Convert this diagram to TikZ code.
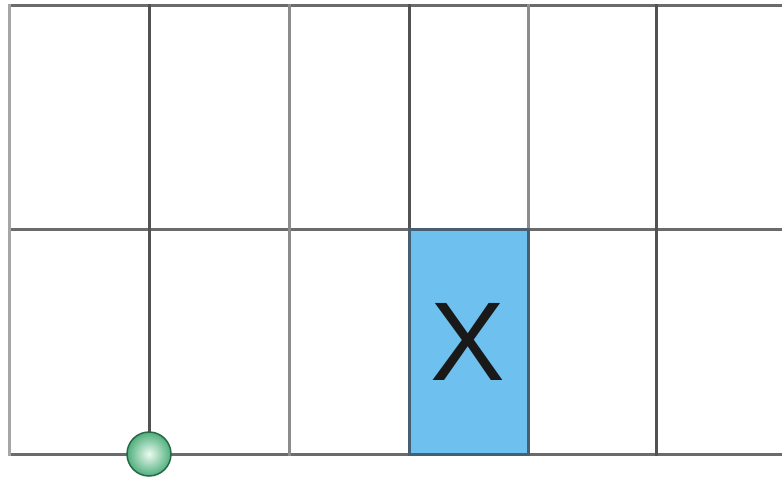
\documentclass[tikz,border=0pt]{standalone}
\usepackage{fontspec}
\setmainfont{Liberation Sans}
\begin{document}
\begin{tikzpicture}[x=1pt,y=-1pt,
  gline/.style={line width=3pt},
  dark/.style={gline,draw=black!68},
  mid/.style={gline,draw=black!45},
  light/.style={gline,draw=black!35},
  hline/.style={gline,draw=black!58}]
\useasboundingbox (0,0) rectangle (782,480);
\fill[white] (0,0) rectangle (782,480);
% blue cell
\node[draw=none,fill={rgb,255:red,110;green,192;blue,238},minimum width=119pt,minimum height=225pt,inner sep=0pt,anchor=north west] (cell) at (409,229) {};
\node[font=\fontsize{112}{112}\selectfont,text=black!90] (x) at (468,342) {X};
% horizontal lines
\draw[hline] (8,5.5) -- (782,5.5);
\draw[hline] (8,229.5) -- (782,229.5);
\draw[hline] (8,454.5) -- (782,454.5);
% vertical lines
\draw[light] (9.5,4) -- (9.5,456);
\draw[dark] (149.5,4) -- (149.5,456);
\draw[mid] (289.5,4) -- (289.5,456);
\draw[dark] (409.5,4) -- (409.5,456);
\draw[mid] (528,4) -- (528,456);
\draw[dark] (656,4) -- (656,456);
% blue cell border
\draw[line width=3pt,draw={rgb,255:red,70;green,95;blue,115}] (409.5,229.5) rectangle (528,454.5);
% ball
\shade[inner color={rgb,255:red,235;green,250;blue,240},outer color={rgb,255:red,80;green,175;blue,125}] (149,454) circle (22);
\draw[line width=1.5pt,draw={rgb,255:red,40;green,105;blue,70}] (149,454) circle (22);
\end{tikzpicture}
\end{document}
